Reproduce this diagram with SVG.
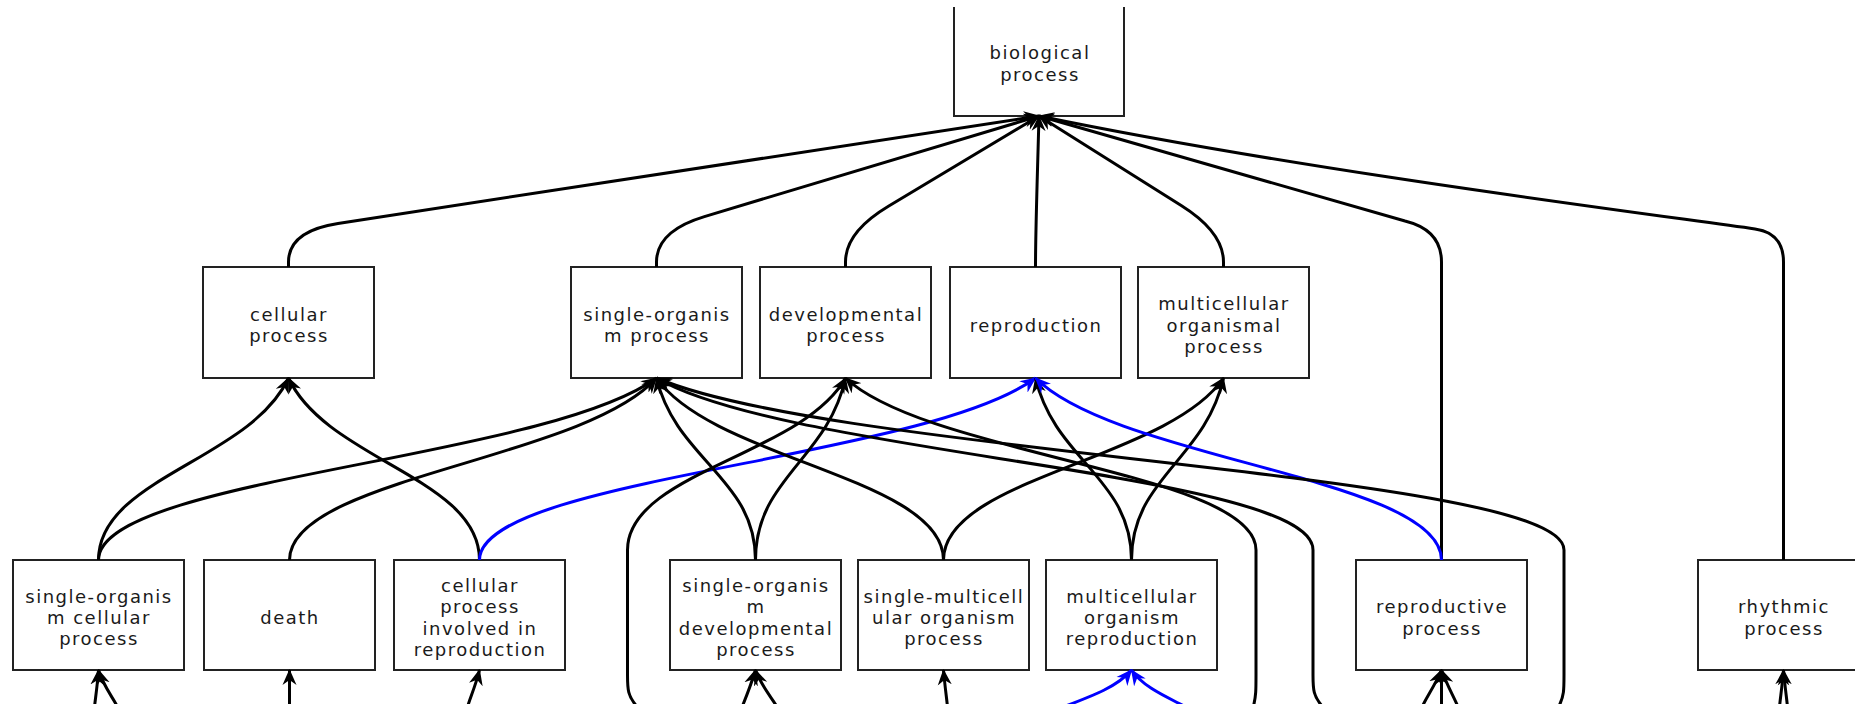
<svg xmlns="http://www.w3.org/2000/svg" width="1855" height="704" viewBox="0 0 1855 704">
<defs>
<style>
.box{fill:#fff;stroke:#222;stroke-width:2}
.lbl{font-family:"DejaVu Sans","Liberation Sans",sans-serif;font-size:18px;letter-spacing:1.5px;fill:#1a1a1a;text-anchor:middle}
.e{fill:none;stroke:#000;stroke-width:3;marker-end:url(#ak)}
.b{fill:none;stroke:#0000ff;stroke-width:3;marker-end:url(#ab)}
</style>
<marker id="ak" markerWidth="17" markerHeight="15" refX="15" refY="7.5" orient="auto" markerUnits="userSpaceOnUse"><path d="M0,0.5 L16,7.5 L0,14.5 L5,7.5 z" fill="#000"/></marker>
<marker id="ab" markerWidth="17" markerHeight="15" refX="15" refY="7.5" orient="auto" markerUnits="userSpaceOnUse"><path d="M0,0.5 L16,7.5 L0,14.5 L5,7.5 z" fill="#0000ff"/></marker>
</defs>
<rect width="1855" height="704" fill="#fff"/>

<g id="n-biological-process"><path class="box" d="M954,7 V116 H1124 V7"/><text class="lbl"><tspan x="1040" y="59.4">biological</tspan><tspan x="1040" y="80.7">process</tspan></text></g>

<g id="n-cellular-process"><rect class="box" x="203" y="267" width="171" height="111"/><text class="lbl"><tspan x="289" y="320.9">cellular</tspan><tspan x="289" y="342.2">process</tspan></text></g>
<g id="n-single-organism-process"><rect class="box" x="571" y="267" width="171" height="111"/><text class="lbl"><tspan x="657" y="320.9">single-organis</tspan><tspan x="657" y="342.2">m process</tspan></text></g>
<g id="n-developmental-process"><rect class="box" x="760" y="267" width="171" height="111"/><text class="lbl"><tspan x="846" y="320.9">developmental</tspan><tspan x="846" y="342.2">process</tspan></text></g>
<g id="n-reproduction"><rect class="box" x="950" y="267" width="171" height="111"/><text class="lbl"><tspan x="1036" y="331.5">reproduction</tspan></text></g>
<g id="n-multicellular-organismal-process"><rect class="box" x="1138" y="267" width="171" height="111"/><text class="lbl"><tspan x="1224" y="310.2">multicellular</tspan><tspan x="1224" y="331.5">organismal</tspan><tspan x="1224" y="352.8">process</tspan></text></g>

<g id="n-single-organism-cellular-process"><rect class="box" x="13" y="560" width="171" height="110"/><text class="lbl"><tspan x="99" y="602.7">single-organis</tspan><tspan x="99" y="624">m cellular</tspan><tspan x="99" y="645.3">process</tspan></text></g>
<g id="n-death"><rect class="box" x="204" y="560" width="171" height="110"/><text class="lbl"><tspan x="290" y="624">death</tspan></text></g>
<g id="n-cellular-process-involved-in-reproduction"><rect class="box" x="394" y="560" width="171" height="110"/><text class="lbl"><tspan x="480" y="592">cellular</tspan><tspan x="480" y="613.4">process</tspan><tspan x="480" y="634.7">involved in</tspan><tspan x="480" y="656">reproduction</tspan></text></g>
<g id="n-single-organism-developmental-process"><rect class="box" x="670" y="560" width="171" height="110"/><text class="lbl"><tspan x="756" y="592">single-organis</tspan><tspan x="756" y="613.4">m</tspan><tspan x="756" y="634.7">developmental</tspan><tspan x="756" y="656">process</tspan></text></g>
<g id="n-single-multicellular-organism-process"><rect class="box" x="858" y="560" width="171" height="110"/><text class="lbl"><tspan x="944" y="602.7">single-multicell</tspan><tspan x="944" y="624">ular organism</tspan><tspan x="944" y="645.3">process</tspan></text></g>
<g id="n-multicellular-organism-reproduction"><rect class="box" x="1046" y="560" width="171" height="110"/><text class="lbl"><tspan x="1132" y="602.7">multicellular</tspan><tspan x="1132" y="624">organism</tspan><tspan x="1132" y="645.3">reproduction</tspan></text></g>
<g id="n-reproductive-process"><rect class="box" x="1356" y="560" width="171" height="110"/><text class="lbl"><tspan x="1442" y="613.4">reproductive</tspan><tspan x="1442" y="634.7">process</tspan></text></g>
<g id="n-rhythmic-process"><rect class="box" x="1698" y="560" width="171" height="110"/><text class="lbl"><tspan x="1784" y="613.4">rhythmic</tspan><tspan x="1784" y="634.7">process</tspan></text></g>

<g id="connectors">
<!-- to biological process -->
<path class="e" d="M288.5,267 L288.5,262 Q288.5,231 338,223.4 L1039,116"/>
<path class="e" d="M656.5,267 L656.5,262 Q656.5,231 704.4,216.6 L1039,116"/>
<path class="e" d="M845.5,267 L845.5,262 Q845.5,232 888.4,206.3 L1039,116"/>
<path class="e" d="M1035.5,267 C1035.5,230 1037,190 1039,116"/>
<path class="e" d="M1223.5,267 L1223.5,262 Q1223.5,232 1181.2,205.4 L1039,116"/>
<path class="e" d="M1441.5,560 L1441.5,262 Q1441.5,230 1405,221 L1039,116"/>
<path class="e" d="M1783.5,560 L1783.5,262 Q1783.5,233 1755,229 C1650,214 1300,170 1039,116"/>
<!-- row 3 to row 2 -->
<path class="e" d="M98.5,560 C98.5,478 250.5,460 288.5,378"/>
<path class="e" d="M98.5,560 C98.5,478 545,460 656.5,378"/>
<path class="e" d="M289.5,560 C289.5,478 583.1,460 656.5,378"/>
<path class="e" d="M479.5,560 C479.5,478 326.7,460 288.5,378"/>
<path class="b" d="M479.5,560 C479.5,478 924.3,460 1035.5,378"/>
<path class="e" d="M636.5,706 C628,696 627.5,690 627.5,675 L627.5,550 C627.5,472.6 801.9,455.4 845.5,378"/>
<path class="e" d="M755.5,560 C755.5,478 676.3,460 656.5,378"/>
<path class="e" d="M755.5,560 C755.5,478 827.5,460 845.5,378"/>
<path class="e" d="M943.5,560 C943.5,478 713.9,460 656.5,378"/>
<path class="e" d="M943.5,560 C943.5,478 1167.5,460 1223.5,378"/>
<path class="e" d="M1131.5,560 C1131.5,478 1054.7,460 1035.5,378"/>
<path class="e" d="M1131.5,560 C1131.5,478 1205,460 1223.5,378"/>
<path class="e" d="M1253.5,706 C1256,696 1256,690 1256,675 L1256,550 C1256,472.6 927.6,455.4 845.5,378"/>
<path class="e" d="M1322,706 C1313.5,696 1313,690 1313,675 L1313,550 C1313,472.6 787.8,455.4 656.5,378"/>
<path class="b" d="M1441.5,560 C1441.5,478 1116.7,460 1035.5,378"/>
<path class="e" d="M1559,706 C1564,696 1564,690 1564,675 L1564,550 C1564,472.6 838,455.4 656.5,378"/>
<!-- stubs from nodes below the view -->
<path class="e" d="M94,712 C95,700 97,690 98.5,670"/>
<path class="e" d="M120,712 C114,698 104,688 98.5,670"/>
<path class="e" d="M289.5,712 L289.5,670"/>
<path class="e" d="M466,712 C469,700 475,688 479.5,670"/>
<path class="e" d="M740,712 C745,700 750,688 755.5,670"/>
<path class="e" d="M780,712 C774,700 762,688 755.5,670"/>
<path class="e" d="M948,712 C947,700 945,688 943.5,670"/>
<path class="b" d="M1050,712 C1080,700 1115,690 1131.5,670"/>
<path class="b" d="M1195,712 C1175,700 1145,690 1131.5,670"/>
<path class="e" d="M1420,712 C1424,700 1434,688 1441.5,670"/>
<path class="e" d="M1441.5,712 L1441.5,670"/>
<path class="e" d="M1460,712 C1456,700 1448,688 1441.5,670"/>
<path class="e" d="M1779,712 C1780,700 1782,688 1783.5,670"/>
<path class="e" d="M1788,712 C1787,700 1785,688 1783.5,670"/>
</g>
</svg>
